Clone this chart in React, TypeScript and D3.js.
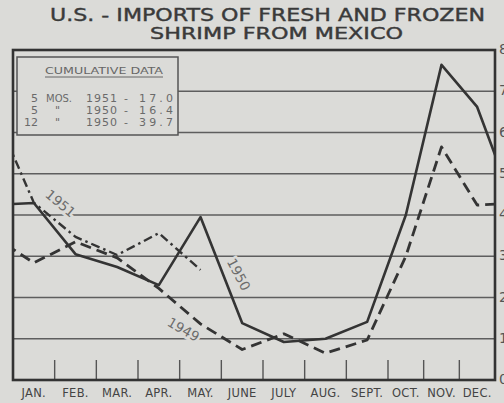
import { useEffect, useRef } from 'react';
import * as d3 from 'd3';

// monthly imports, millions of pounds
const months = ['JAN.', 'FEB.', 'MAR.', 'APR.', 'MAY.', 'JUNE', 'JULY', 'AUG.', 'SEPT.', 'OCT.', 'NOV.', 'DEC.'];
const imports1949 = [2.84, 3.35, 2.96, 2.22, 1.36, 0.74, 1.12, 0.65, 0.97, 3.0, 5.65, 4.24];
const imports1950 = [4.29, 3.05, 2.74, 2.3, 3.95, 1.38, 0.92, 1.0, 1.41, 4.0, 7.64, 6.62];
const imports1951 = [4.3, 3.47, 3.03, 3.56, 2.67];
const dec1948 = 3.5;

const yTicks = [0, 1, 2, 3, 4, 5, 6, 7, 8];

const titleLines = ['U.S. - IMPORTS OF FRESH AND FROZEN', 'SHRIMP FROM MEXICO'];
const legendTitle = 'CUMULATIVE DATA';
const legendCount = ['5', '5', '12'];
const legendUnit = ['MOS.', '"', '"'];
const legendYear = ['1951', '1950', '1950'];
const legendTotal = ['17.0', '16.4', '39.7'];

const BG = '#dbdbd8';
const INK = '#343434';

const App = () => {
  const svgRef = useRef<SVGSVGElement>(null);

  useEffect(() => {
    const svg = d3.select(svgRef.current).attr('width', 504).attr('height', 403);
    svg.selectAll('*').remove();

    const left = 13, top = 50, right = 495, bottom = 380;

    const x = d3.scaleLinear().domain([0, 9, 12]).range([left, 388, right]);
    const y = d3.scaleLinear().domain([0, 8]).range([bottom, top]);

    svg.append('rect').attr('width', 504).attr('height', 403).attr('fill', BG);

    // grid
    svg.append('g')
      .selectAll('line')
      .data(yTicks.slice(1, -1))
      .enter()
      .append('line')
      .attr('x1', left)
      .attr('x2', right)
      .attr('y1', (d) => y(d))
      .attr('y2', (d) => y(d))
      .attr('stroke', '#5e5e5e')
      .attr('stroke-width', 1.4);

    // series labels (halo cuts the grid like the original lettering)
    const labels = [
      { text: '1951', i: 1.13, v: 4.27, rot: 40 },
      { text: '1950', i: 5.4, v: 2.55, rot: 62 },
      { text: '1949', i: 4.08, v: 1.21, rot: 30 },
    ];
    svg.append('g')
      .selectAll('text')
      .data(labels)
      .enter()
      .append('text')
      .attr('transform', (d) => `translate(${x(d.i)},${y(d.v)}) rotate(${d.rot})`)
      .attr('text-anchor', 'middle')
      .attr('dominant-baseline', 'middle')
      .attr('font-family', 'DejaVu Sans, sans-serif')
      .attr('font-size', 13.5)
      .attr('fill', '#6c6c6c')
      .attr('stroke', BG)
      .attr('stroke-width', 5)
      .attr('paint-order', 'stroke')
      .text((d) => d.text);

    // legend box
    const lg = svg.append('g');
    lg.append('rect')
      .attr('x', 17)
      .attr('y', 57)
      .attr('width', 161)
      .attr('height', 78)
      .attr('fill', BG)
      .attr('stroke', '#555')
      .attr('stroke-width', 1.5);
    lg.append('text')
      .attr('x', 45)
      .attr('y', 74)
      .attr('textLength', 118)
      .attr('lengthAdjust', 'spacingAndGlyphs')
      .attr('font-family', 'DejaVu Sans, sans-serif')
      .attr('font-size', 9)
      .attr('fill', '#666')
      .text(legendTitle);
    lg.append('line')
      .attr('x1', 45)
      .attr('x2', 163)
      .attr('y1', 77)
      .attr('y2', 77)
      .attr('stroke', '#666')
      .attr('stroke-width', 1);
    const rowY = d3.scaleLinear().domain([0, 2]).range([102, 126]);
    const legendFont = (sel) =>
      sel.attr('font-family', 'DejaVu Sans, sans-serif').attr('font-size', 11).attr('fill', '#6a6a6a');
    legendCount.forEach((c, k) => {
      const ry = rowY(k);
      lg.append('text').attr('x', 38).attr('y', ry).attr('text-anchor', 'end').call(legendFont).text(c);
      lg.append('text')
        .attr('x', k === 0 ? 46 : 55)
        .attr('y', ry)
        .call(legendFont)
        .attr('font-size', k === 0 ? 10 : 11)
        .text(legendUnit[k]);
      lg.append('text').attr('x', 86).attr('y', ry).attr('textLength', 31).call(legendFont).text(legendYear[k]);
      lg.append('text').attr('x', 126).attr('y', ry).attr('text-anchor', 'middle').call(legendFont).text('-');
      lg.append('text').attr('x', 139).attr('y', ry).attr('textLength', 34).call(legendFont).text(legendTotal[k]);
    });

    // month boundary ticks inside the frame
    svg.append('g')
      .selectAll('line')
      .data(d3.range(1, 12))
      .enter()
      .append('line')
      .attr('x1', (d) => x(d))
      .attr('x2', (d) => x(d))
      .attr('y1', bottom - 20)
      .attr('y2', bottom)
      .attr('stroke', '#555')
      .attr('stroke-width', 1.4);

    // lines, each carried to the frame edge from the neighbouring december / january
    const withEdges = (vals, prev, next) => {
      const pts = [{ i: -0.5, v: prev }, ...vals.map((v, k) => ({ i: k + 0.5, v }))];
      if (next != null) pts.push({ i: 12.5, v: next });
      return pts;
    };
    const series = [
      { pts: withEdges(imports1949, dec1948, imports1950[0]), dash: '11,6', w: 2.8 },
      { pts: withEdges(imports1950, imports1949[11], imports1951[0]), dash: null, w: 2.6 },
      { pts: withEdges(imports1951, imports1950[11], null), dash: '9,4,2.5,4', w: 2.4 },
    ];

    svg.append('clipPath')
      .attr('id', 'plot-clip')
      .append('rect')
      .attr('x', left)
      .attr('y', top)
      .attr('width', right - left)
      .attr('height', bottom - top);

    const line = d3
      .line()
      .x((d) => x(d.i))
      .y((d) => y(d.v));

    svg.append('g')
      .attr('clip-path', 'url(#plot-clip)')
      .selectAll('path')
      .data(series)
      .enter()
      .append('path')
      .attr('d', (d) => line(d.pts))
      .attr('fill', 'none')
      .attr('stroke', INK)
      .attr('stroke-width', (d) => d.w)
      .attr('stroke-dasharray', (d) => d.dash)
      .attr('stroke-linejoin', 'round');

    // frame
    svg.append('rect')
      .attr('x', left)
      .attr('y', top)
      .attr('width', right - left)
      .attr('height', bottom - top)
      .attr('fill', 'none')
      .attr('stroke', '#333')
      .attr('stroke-width', 2.6);

    // title
    const titleFont = (sel) =>
      sel
        .attr('lengthAdjust', 'spacingAndGlyphs')
        .attr('font-family', 'DejaVu Sans, sans-serif')
        .attr('fill', '#3a3a3a')
        .attr('stroke', '#3a3a3a')
        .attr('stroke-width', 0.4);
    svg.append('text')
      .attr('x', 50)
      .attr('y', 21)
      .attr('textLength', 435)
      .attr('font-size', 17)
      .call(titleFont)
      .text(titleLines[0]);
    svg.append('text')
      .attr('x', 150)
      .attr('y', 39)
      .attr('textLength', 253)
      .attr('font-size', 15.5)
      .call(titleFont)
      .text(titleLines[1]);

    // month labels
    svg.append('g')
      .selectAll('text')
      .data(months)
      .enter()
      .append('text')
      .attr('x', (d, k) => x(k + 0.5))
      .attr('y', 397)
      .attr('text-anchor', 'middle')
      .attr('font-family', 'DejaVu Sans, sans-serif')
      .attr('font-size', 11.5)
      .attr('letter-spacing', 0.3)
      .attr('fill', '#444')
      .text((d) => d);

    // right scale (cut off by the page edge)
    svg.append('g')
      .selectAll('text')
      .data(yTicks)
      .enter()
      .append('text')
      .attr('x', 499)
      .attr('y', (d) => y(d) + 4)
      .attr('font-family', 'DejaVu Sans, sans-serif')
      .attr('font-size', 14)
      .attr('fill', '#555')
      .text((d) => d);
  }, []);

  return <svg ref={svgRef} style={{ position: 'absolute', left: 0, top: 0 }}></svg>;
};

export default App;
